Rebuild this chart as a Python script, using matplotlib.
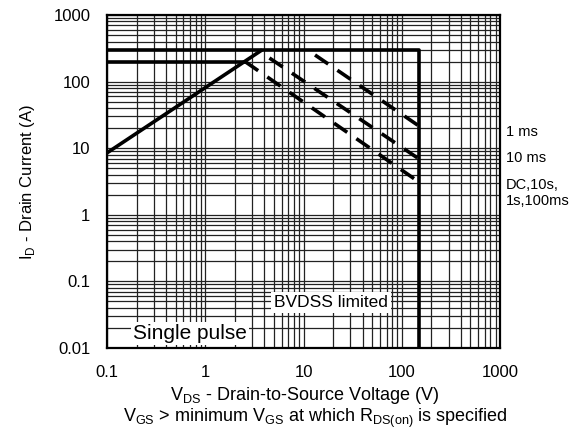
import matplotlib
matplotlib.use("Agg")
import matplotlib.pyplot as plt
from matplotlib.ticker import LogLocator, FixedLocator, NullFormatter

plt.rcParams['font.family'] = ['Liberation Sans', 'DejaVu Sans']
plt.rcParams['lines.scale_dashes'] = False

# Data
rds_v = [0.1, 3.8]
rds_i = [8.5, 300]
pulse_limit_v = [0.1, 150, 150]
pulse_limit_i = [300, 300, 0.01]
cont_limit_v = [0.1, 2.54]
cont_limit_i = [200, 200]
ms1_v = [13.1, 150]
ms1_i = [251, 21.5]
ms10_v = [4.5, 150]
ms10_i = [226, 6.9]
dc_v = [2.54, 150]
dc_i = [200, 3.1]

x_ticks = [0.1, 1, 10, 100, 1000]
x_labels = ['0.1', '1', '10', '100', '1000']
y_ticks = [0.01, 0.1, 1, 10, 100, 1000]
y_labels = ['0.01', '0.1', '1', '10', '100', '1000']

fig = plt.figure(figsize=(5.88, 4.33), dpi=100)
ax = fig.add_axes([107/588, 1-348/433, (500-107)/588, (348-15)/433])
ax.set_xscale('log')
ax.set_yscale('log')
ax.set_xlim(0.1, 1000)
ax.set_ylim(0.01, 1000)

ax.xaxis.set_major_locator(FixedLocator(x_ticks))
ax.yaxis.set_major_locator(FixedLocator(y_ticks))
ax.set_xticklabels(x_labels)
ax.set_yticklabels(y_labels)
ax.xaxis.set_minor_locator(LogLocator(base=10, subs=range(2, 10), numticks=20))
ax.yaxis.set_minor_locator(LogLocator(base=10, subs=range(2, 10), numticks=20))
ax.xaxis.set_minor_formatter(NullFormatter())
ax.yaxis.set_minor_formatter(NullFormatter())
ax.tick_params(which='both', length=0, labelsize=12, colors='black')
ax.tick_params(axis='x', pad=12)
ax.tick_params(axis='y', pad=12)
ax.grid(True, which='both', color='#222222', linewidth=0.9)
ax.set_axisbelow(True)
for s in ax.spines.values():
    s.set_linewidth(1.6)
    s.set_color('black')

lw = 2.6
ax.plot(rds_v, rds_i, color='black', lw=lw, solid_capstyle='butt')
ax.plot(pulse_limit_v, pulse_limit_i, color='black', lw=lw)
ax.plot(cont_limit_v, cont_limit_i, color='black', lw=lw)
for v, i in [(ms1_v, ms1_i), (ms10_v, ms10_i), (dc_v, dc_i)]:
    ax.plot(v, i, color='black', lw=lw, dashes=(11.5, 8.0), dash_capstyle='butt')

ax.text(5.0, 0.048, 'BVDSS limited', fontsize=12.5, ha='left', va='center',
        bbox=dict(facecolor='white', edgecolor='none', pad=2.0))
ax.text(0.185, 0.0165, 'Single pulse', fontsize=15, ha='left', va='center',
        bbox=dict(facecolor='white', edgecolor='none', pad=1.5))

fig.text(506/588, 1-132/433, '1 ms', fontsize=10.5, ha='left', va='center')
fig.text(506/588, 1-158/433, '10 ms', fontsize=10.5, ha='left', va='center')
fig.text(506/588, 1-193/433, 'DC,10s,\n1s,100ms', fontsize=10.5, ha='left', va='center',
         linespacing=1.2)

ax.set_ylabel(r'I$_\mathregular{D}$ - Drain Current (A)', fontsize=12, labelpad=12)
fig.text(305/588, 1-396/433, r'V$_\mathregular{DS}$ - Drain-to-Source Voltage (V)',
         fontsize=13, ha='center', va='center')
fig.text(315/588, 1-418/433,
         r'V$_\mathregular{GS}$ > minimum V$_\mathregular{GS}$ at which R$_\mathregular{DS(on)}$ is specified',
         fontsize=13, ha='center', va='center')

fig.savefig('out.png', dpi=100)
